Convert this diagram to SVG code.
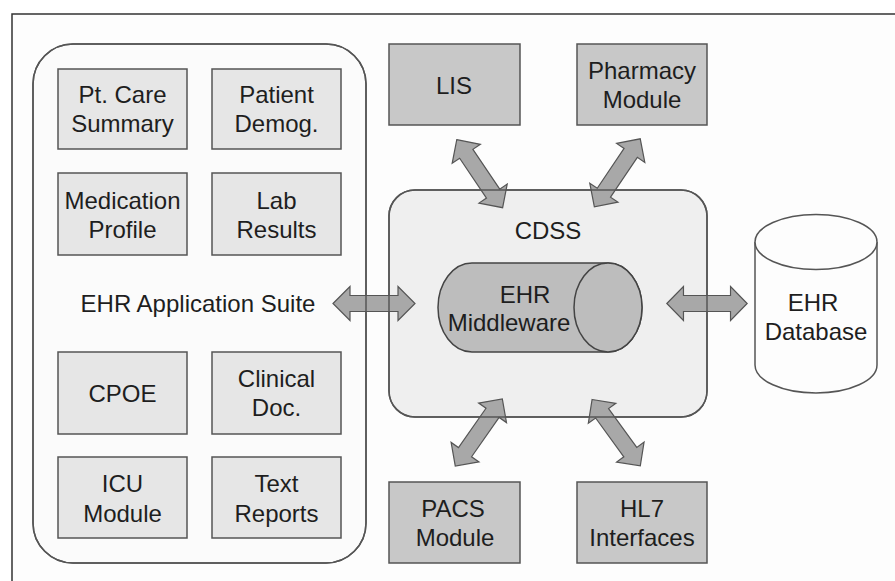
<svg xmlns="http://www.w3.org/2000/svg" xmlns:xlink="http://www.w3.org/1999/xlink" width="895" height="581" viewBox="0 0 895 581">
<style>
text{font-family:"Liberation Sans",Arial,sans-serif;font-size:24px;fill:#1e1e1e;text-anchor:middle}
.frame{fill:#fdfdfd;stroke:#333;stroke-width:1.5}
.suite{fill:#fbfbfb;stroke:#555;stroke-width:1.5}
.cdss{fill:#efefef;stroke:#555;stroke-width:1.5}
.edge{fill:none;stroke:#555;stroke-width:1.5}
.app{fill:#e6e6e6;stroke:#555;stroke-width:1.5}
.ext{fill:#c8c8c8;stroke:#555;stroke-width:1.5}
.mid{fill:#bdbdbd;stroke:#444;stroke-width:1.5}
.db{fill:#fdfdfd;stroke:#555;stroke-width:1.5}
.arr{fill:#a8a8a8;stroke:#555;stroke-width:1.2;stroke-linejoin:miter}
</style>
<defs>
<polygon id="dbl" points="-41,0 -24,-17 -24,-8 24,-8 24,-17 41,0 24,17 24,8 -24,8 -24,17"/>
</defs>
<rect class="frame" x="12" y="14" width="900" height="600"/>

<g id="ehr-application-suite">
<rect class="suite" x="33" y="44" width="333" height="519" rx="40" ry="40"/>
<text x="198" y="312">EHR Application Suite</text>
</g>
<g id="pt-care-summary"><rect class="app" x="58" y="69" width="129" height="80"/><text x="122.5" y="103">Pt. Care</text><text x="122.5" y="132">Summary</text></g>
<g id="patient-demog"><rect class="app" x="212" y="69" width="129" height="80"/><text x="276.5" y="103">Patient</text><text x="276.5" y="132">Demog.</text></g>
<g id="medication-profile"><rect class="app" x="58" y="173" width="129" height="82"/><text x="122.5" y="209">Medication</text><text x="122.5" y="238">Profile</text></g>
<g id="lab-results"><rect class="app" x="212" y="173" width="129" height="82"/><text x="276.5" y="209">Lab</text><text x="276.5" y="238">Results</text></g>
<g id="cpoe"><rect class="app" x="58" y="352" width="129" height="82"/><text x="122.5" y="402">CPOE</text></g>
<g id="clinical-doc"><rect class="app" x="212" y="352" width="129" height="82"/><text x="276.5" y="387">Clinical</text><text x="276.5" y="416">Doc.</text></g>
<g id="icu-module"><rect class="app" x="58" y="457" width="129" height="81"/><text x="122.5" y="492">ICU</text><text x="122.5" y="522">Module</text></g>
<g id="text-reports"><rect class="app" x="212" y="457" width="129" height="81"/><text x="276.5" y="492">Text</text><text x="276.5" y="522">Reports</text></g>

<g id="lis"><rect class="ext" x="389" y="44" width="131" height="81"/><text x="454" y="94">LIS</text></g>
<g id="pharmacy-module"><rect class="ext" x="577" y="44" width="130" height="81"/><text x="642" y="79">Pharmacy</text><text x="642" y="108">Module</text></g>

<g id="cdss">
<rect class="cdss" x="389" y="190" width="318" height="227" rx="26" ry="26"/>
<text x="548" y="239">CDSS</text>
</g>
<g id="ehr-middleware">
<path class="mid" d="M472,263 L608,263 A34,44.5 0 0 1 608,352 L472,352 A34,44.5 0 0 1 472,263 Z"/>
<ellipse class="mid" cx="608" cy="307.5" rx="34" ry="44.5"/>
<text x="525" y="303">EHR</text>
<text x="509" y="331">Middleware</text>
</g>

<g id="ehr-database">
<path class="db" d="M755,242 L755,365 A61,28 0 0 0 877,365 L877,242"/>
<ellipse class="db" cx="816" cy="242" rx="61" ry="27.5"/>
<text x="813" y="311">EHR</text>
<text x="816" y="340">Database</text>
</g>

<g id="pacs-module"><rect class="ext" x="389" y="482" width="131" height="81"/><text x="453" y="517">PACS</text><text x="455" y="546">Module</text></g>
<g id="hl7-interfaces"><rect class="ext" x="577" y="482" width="130" height="81"/><text x="642" y="517">HL7</text><text x="642" y="546">Interfaces</text></g>

<g id="connectors">
<use xlink:href="#dbl" class="arr" transform="translate(374,303.5)"/>
<use xlink:href="#dbl" class="arr" transform="translate(707,303.5) scale(0.98,1)"/>
<use xlink:href="#dbl" class="arr" transform="translate(479.7,173.7) rotate(56)"/>
<use xlink:href="#dbl" class="arr" transform="translate(617.3,172.8) rotate(-56)"/>
<use xlink:href="#dbl" class="arr" transform="translate(478.8,432.5) rotate(-55)"/>
<use xlink:href="#dbl" class="arr" transform="translate(616.2,432.7) rotate(54)"/>
</g>

<g id="container-edges">
<rect class="edge" x="33" y="44" width="333" height="519" rx="40" ry="40"/>
<rect class="edge" x="389" y="190" width="318" height="227" rx="26" ry="26"/>
</g>
</svg>
